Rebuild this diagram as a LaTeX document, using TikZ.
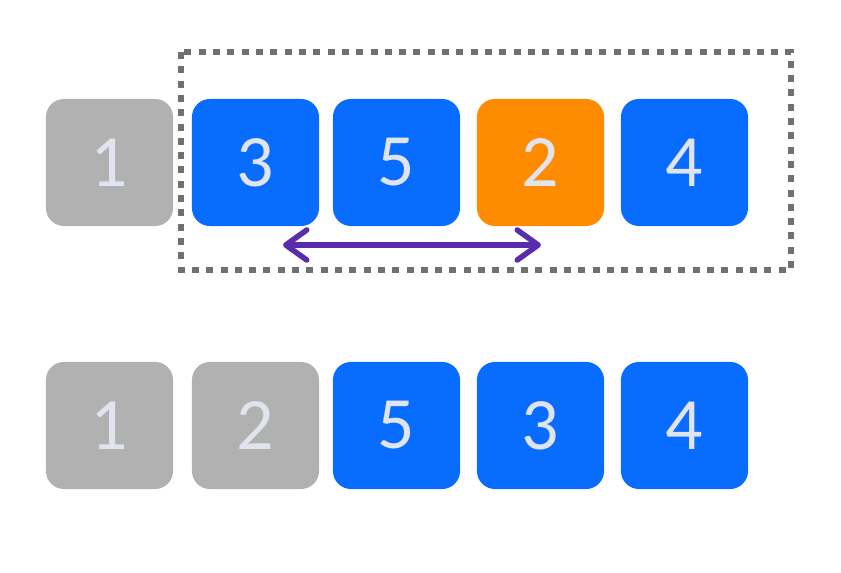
\documentclass[tikz,border=0pt]{standalone}
\usepackage{fontspec}
\setmainfont{Carlito}
\usetikzlibrary{arrows.meta, positioning}
\definecolor{cardblue}{RGB}{8,108,255}
\definecolor{cardorange}{RGB}{255,140,0}
\definecolor{cardgray}{RGB}{176,177,176}
\definecolor{cardtext}{RGB}{224,228,238}
\definecolor{framegray}{RGB}{112,112,112}
\definecolor{swappurple}{RGB}{88,44,170}
\tikzset{
  card/.style={rounded corners=0.18cm, minimum width=1.27cm, minimum height=1.27cm,
    inner sep=0pt, text=cardtext, font=\fontsize{21}{25}\selectfont},
  done/.style={card, fill=cardgray},
  todo/.style={card, fill=cardblue},
  pick/.style={card, fill=cardorange},
}
\begin{document}
\begin{tikzpicture}[x=0.01cm, y=-0.01cm]
            \useasboundingbox (0,0) rectangle (841,573);
            % first pass
            \node[done] (a1) at (109.5,162.5) {1};
            \node[todo] (a3) at (255.5,162.5) {3};
            \node[todo] (a5) at (396.5,162.5) {5};
            \node[pick] (a2) at (540.5,162.5) {2};
            \node[todo] (a4) at (684.5,162.5) {4};
            \draw[framegray, line width=0.065cm, dash pattern=on 0.07cm off 0.073cm]
                (181,52) rectangle (791,270);
            \coordinate (swapL) at (283,245);
            \coordinate (swapR) at (541,245);
            \draw[{Straight Barb[length=2.1mm,width=3mm,round]}-{Straight Barb[length=2.1mm,width=3mm,round]},
                swappurple, line width=0.055cm, line cap=round] (swapL) -- (swapR);
            % after swap
            \node[done] (b1) at (109.5,425.5) {1};
            \node[done] (b2) at (255.5,425.5) {2};
            \node[todo] (b5) at (396.5,425.5) {5};
            \node[todo] (b3) at (540.5,425.5) {3};
            \node[todo] (b4) at (684.5,425.5) {4};
        \end{tikzpicture}
\end{document}
